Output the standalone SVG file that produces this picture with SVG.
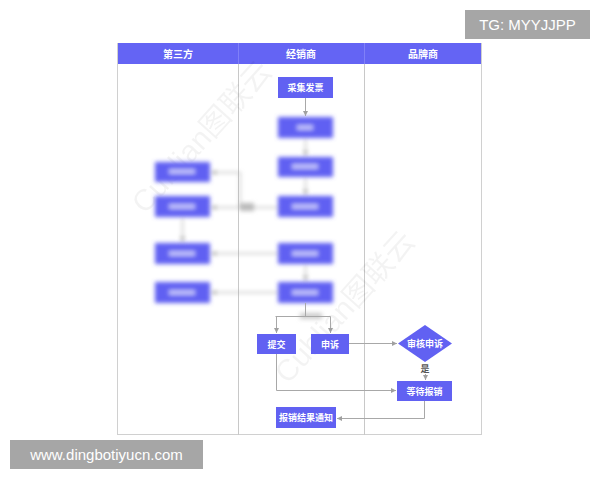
<svg xmlns="http://www.w3.org/2000/svg" width="600" height="480" viewBox="0 0 600 480">
<style>
.hdr{fill:#6464f4}
.hdt{font-family:"Noto Sans CJK SC","Noto Sans",sans-serif;font-size:10px;font-weight:bold;fill:#fff;text-anchor:middle}
.node{fill:#6161f2}
.nt{font-family:"Noto Sans CJK SC","Noto Sans",sans-serif;font-size:9px;font-weight:bold;fill:#fff;text-anchor:middle}
.lane{stroke:#c8c8c8;stroke-width:1;fill:none}
.edge{stroke:#a8a8a8;stroke-width:1;fill:none;marker-end:url(#ah)}
.edge2{stroke:#a8a8a8;stroke-width:1;fill:none}
.blob{fill:#fff;opacity:0.6}
.lbl{font-family:"Noto Sans CJK SC","Noto Sans",sans-serif;font-size:9px;font-weight:bold;fill:#555;text-anchor:middle}
.wm{font-family:"Liberation Sans","Noto Sans CJK SC",sans-serif;font-size:30px;fill:#000;opacity:0.045}
.tag{fill:#a6a6a6}
.tagt{font-family:"Liberation Sans",Arial,sans-serif;font-size:15px;fill:#fff}
</style>
<defs>
<marker id="ah" markerWidth="6" markerHeight="6" refX="5" refY="3" orient="auto" markerUnits="userSpaceOnUse">
<path d="M0,0.5 L5,3 L0,5.5 Z" fill="#a0a0a0"/>
</marker>
<filter id="blur" x="-10%" y="-10%" width="120%" height="120%">
<feGaussianBlur stdDeviation="2"/>
</filter>
</defs>
<rect width="600" height="480" fill="#fff"/>

<g id="table">
<rect x="117.5" y="43.5" width="364" height="391" fill="#fff" stroke="#d0d0d0"/>
<rect class="hdr" x="118" y="43" width="363" height="21"/>
<line class="lane" x1="238.5" y1="64" x2="238.5" y2="435"/>
<line class="lane" x1="364.5" y1="64" x2="364.5" y2="435"/>
<line x1="238.5" y1="43" x2="238.5" y2="64" stroke="#8080f8"/>
<line x1="364.5" y1="43" x2="364.5" y2="64" stroke="#8080f8"/>
<text class="hdt" x="178" y="57.5">第三方</text>
<text class="hdt" x="301" y="57.5">经销商</text>
<text class="hdt" x="423" y="57.5">品牌商</text>
</g>

<g id="watermark">
<text class="wm" transform="translate(145,215) rotate(-48)">Cublian图联云</text>
<text class="wm" transform="translate(288,385) rotate(-48)">Cublian图联云</text>
</g>

<g id="blurred" filter="url(#blur)">
<g class="edges-blurred">
<path class="edge" d="M305.5,139 V156"/>
<path class="edge" d="M305.5,178 V195"/>
<path class="edge" d="M305.5,265 V281"/>
<path class="edge" d="M182.5,218 V242"/>
<path class="edge" d="M278,207.5 H211"/>
<path class="edge" d="M240,207.5 V172.5 H211"/>
<path class="edge" d="M278,253.5 H211"/>
<path class="edge" d="M278,292.5 H211"/>
<rect x="240" y="203" width="14" height="8" fill="#bbb"/>
<rect x="300" y="313" width="22" height="6" fill="#ccc"/>
</g>
<g id="m1"><rect class="node" x="278" y="117" width="55" height="21"/><rect class="blob" x="297" y="125" width="16" height="5"/></g>
<g id="m2"><rect class="node" x="278" y="157" width="55" height="20"/><rect class="blob" x="292" y="164" width="26" height="5"/></g>
<g id="m3"><rect class="node" x="278" y="196" width="55" height="21"/><rect class="blob" x="292" y="204" width="26" height="5"/></g>
<g id="m4"><rect class="node" x="278" y="243" width="55" height="21"/><rect class="blob" x="292" y="251" width="26" height="5"/></g>
<g id="m5"><rect class="node" x="278" y="282" width="55" height="21"/><rect class="blob" x="292" y="290" width="26" height="5"/></g>
<g id="l1"><rect class="node" x="155" y="162" width="55" height="20"/><rect class="blob" x="169" y="169" width="26" height="5"/></g>
<g id="l2"><rect class="node" x="155" y="196" width="55" height="21"/><rect class="blob" x="169" y="204" width="26" height="5"/></g>
<g id="l3"><rect class="node" x="155" y="243" width="55" height="21"/><rect class="blob" x="169" y="251" width="26" height="5"/></g>
<g id="l4"><rect class="node" x="155" y="282" width="55" height="21"/><rect class="blob" x="169" y="290" width="26" height="5"/></g>
</g>

<g id="connectors">
<path class="edge" d="M305.5,98 V116"/>
<path class="edge2" d="M305.5,303 V316.5"/>
<path class="edge2" d="M275.5,316.5 H330.5"/>
<path class="edge" d="M276.5,316.5 V333"/>
<path class="edge" d="M330.5,316.5 V333"/>
<path class="edge" d="M349,343.5 H397"/>
<path class="edge" d="M425.5,374 V380"/>
<path class="edge" d="M276.5,353 V390.5 H396"/>
<path class="edge" d="M424.5,401 V418.5 H337"/>
<text class="lbl" x="425" y="372">是</text>
</g>

<g id="n-caiji"><rect class="node" x="278" y="77" width="55" height="21"/><text class="nt" x="305.5" y="91">采集发票</text></g>
<g id="n-tijiao"><rect class="node" x="257" y="334" width="39" height="20"/><text class="nt" x="276.5" y="347.5">提交</text></g>
<g id="n-shensu"><rect class="node" x="311" y="334" width="38" height="20"/><text class="nt" x="330" y="347.5">申诉</text></g>
<g id="n-shenhe"><polygon class="node" points="425,325 452,343.5 425,362 398,343.5"/><text class="nt" x="425" y="347">审核申诉</text></g>
<g id="n-dengdai"><rect class="node" x="397" y="381" width="55" height="20"/><text class="nt" x="424.5" y="394.5">等待报销</text></g>
<g id="n-tongzhi"><rect class="node" x="276" y="407" width="60" height="21"/><text class="nt" x="306" y="421">报销结果通知</text></g>

<g id="tags">
<rect class="tag" x="465" y="10" width="125" height="29"/>
<text class="tagt" x="527.5" y="30" text-anchor="middle">TG: MYYJJPP</text>
<rect class="tag" x="10" y="440" width="193" height="29"/>
<text class="tagt" x="106.5" y="460" text-anchor="middle">www.dingbotiyucn.com</text>
</g>
</svg>
